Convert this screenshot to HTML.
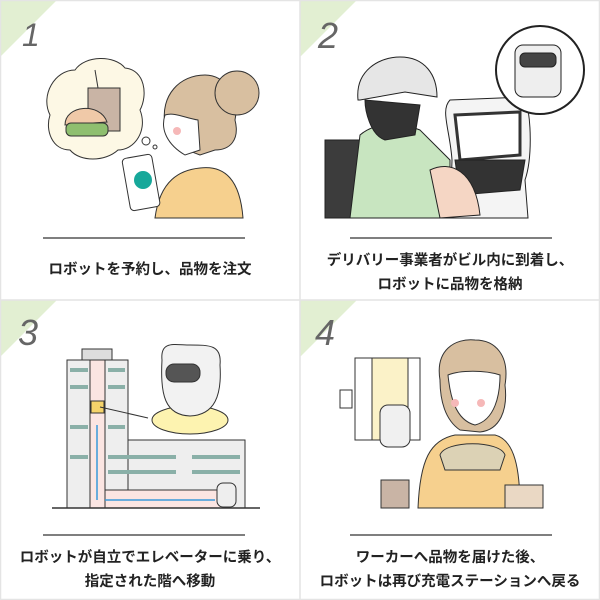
<!DOCTYPE html>
<html><head><meta charset="utf-8"><style>
html,body{margin:0;padding:0;background:#fff}
svg{display:block}
text{font-family:"Liberation Sans","Noto Sans CJK JP",sans-serif;font-size:14.5px;fill:#222;font-weight:700;text-anchor:middle}
.n{font-family:"Liberation Sans",sans-serif;font-size:36px;fill:#666;font-weight:400;text-anchor:start;font-style:italic}
</style></head><body>
<svg width="600" height="600" viewBox="0 0 600 600" xmlns="http://www.w3.org/2000/svg">
<rect width="600" height="600" fill="#fff"/>
<g fill="#e2efd2"><polygon points="0,0 57,0 0,57"/><polygon points="300,0 357,0 300,57"/><polygon points="0,300 57,300 0,357"/><polygon points="300,300 357,300 300,357"/></g>
<g stroke="#e4e4e4" stroke-width="1.5"><line x1="300" y1="0" x2="300" y2="600"/><line x1="0" y1="300" x2="600" y2="300"/><rect x="0.5" y="0.5" width="599" height="599" fill="none"/></g>
<text class="n" x="22" y="46" style="font-size:32px">1</text>
<text class="n" x="318" y="48">2</text>
<text class="n" x="18" y="345">3</text>
<text class="n" x="315" y="345">4</text>
<g stroke="#555" stroke-width="1.5"><line x1="43" y1="238" x2="245" y2="238"/><line x1="350" y1="238" x2="552" y2="238"/><line x1="43" y1="535" x2="245" y2="535"/><line x1="350" y1="535" x2="552" y2="535"/></g>
<text x="150" y="274">ロボットを予約し、品物を注文</text>
<text x="450" y="265">デリバリー事業者がビル内に到着し、</text>
<text x="450" y="289">ロボットに品物を格納</text>
<text x="150" y="562">ロボットが自立でエレベーターに乗り、</text>
<text x="150" y="586">指定された階へ移動</text>
<text x="450" y="562">ワーカーへ品物を届けた後、</text>
<text x="450" y="586">ロボットは再び充電ステーションへ戻る</text>
<!-- panel1 -->
<g stroke="#333" stroke-width="1">
<path d="M50,115 C40,95 55,70 75,70 C85,55 115,55 125,68 C145,70 148,95 140,110 C148,130 135,150 118,150 C105,162 80,162 70,150 C52,150 45,130 50,115Z" fill="#fdf8e5"/>
<circle cx="146" cy="141" r="4" fill="#fff"/><circle cx="155" cy="147" r="2" fill="#fff"/>
<rect x="88" y="88" width="32" height="43" fill="#c9b4a5"/><line x1="95" y1="70" x2="98" y2="88"/>
<path d="M65,125 C65,105 100,102 107,122Z" fill="#f0c9a8"/><rect x="66" y="123" width="42" height="13" rx="5" fill="#8fbf6f"/>
<path d="M155,218 C160,180 180,170 200,168 C225,165 240,180 243,218Z" fill="#f6d08e"/>
<path d="M165,125 C160,95 180,75 205,75 C225,75 240,95 235,120 C240,140 230,150 215,150 L200,155 C185,150 170,140 165,125Z" fill="#d8bfa0"/>
<circle cx="237" cy="93" r="22" fill="#d8bfa0"/>
<path d="M165,115 C160,130 168,145 185,155 L200,150 L198,120 C185,118 175,112 165,115Z" fill="#fff"/>
<rect x="126" y="156" width="30" height="53" rx="4" fill="#fff" transform="rotate(-10 141 182)"/>
<circle cx="143" cy="180" r="9" fill="#17a89a" stroke="none"/>
</g>
<circle cx="177" cy="131" r="4" fill="#f6b8b8"/>
<!-- panel2 -->
<g stroke="#222" stroke-width="1">
<rect x="325" y="140" width="70" height="78" fill="#3c3c3c"/>
<path d="M350,218 L360,135 C375,122 400,122 420,130 L450,160 L450,218Z" fill="#c8e5c0"/>
<path d="M365,100 C365,110 370,135 385,140 L415,135 L420,105Z" fill="#333"/>
<path d="M358,100 C355,70 380,57 400,57 C425,57 437,75 437,97 L405,92 L360,100Z" fill="#e6e6e6"/>
<path d="M450,218 L452,160 C450,130 440,110 450,100 L525,97 C532,120 532,160 525,180 L528,218Z" fill="#f4f4f4"/>
<path d="M455,115 L520,112 L520,155 L460,160Z" fill="#fff" stroke="#333" stroke-width="3"/>
<path d="M455,160 L525,160 L520,190 L460,195Z" fill="#333"/>
<path d="M430,170 C450,160 475,170 480,215 L440,218Z" fill="#f5d6c4"/>
<circle cx="540" cy="70" r="44" fill="#fff" stroke-width="2"/>
<rect x="515" y="45" width="46" height="52" rx="8" fill="#eee"/>
<rect x="520" y="53" width="36" height="14" rx="5" fill="#444"/>
</g>
<!-- panel3 -->
<g stroke="#333" stroke-width="1">
<rect x="82" y="349" width="30" height="12" fill="#ddd"/>
<rect x="67" y="360" width="61" height="148" fill="#eee"/>
<rect x="128" y="440" width="117" height="68" fill="#eee"/>
<rect x="90" y="360" width="15" height="148" fill="#fbe5e2"/>
<rect x="105" y="490" width="122" height="18" fill="#fbe5e2"/>
<rect x="91" y="401" width="13" height="12" fill="#f5d36a"/>
<line x1="100" y1="407" x2="148" y2="418"/>
<ellipse cx="190" cy="420" rx="38" ry="14" fill="#fdf3b0"/>
<path d="M162,360 C160,340 175,345 190,345 C210,345 222,345 220,365 C222,395 215,415 190,416 C165,415 160,395 162,360Z" fill="#f2f2f2"/>
<rect x="166" y="364" width="34" height="18" rx="8" fill="#555"/>
<line x1="52" y1="508" x2="260" y2="508" stroke-width="1.5"/>
<rect x="217" y="483" width="19" height="24" rx="6" fill="#eee"/>
</g>
<path d="M97,500 L97,425 M105,500 L215,500" stroke="#3a9ad9" stroke-width="1.5" fill="none"/>
<g fill="#8ab0a8"><rect x="70" y="368" width="18" height="4"/><rect x="108" y="368" width="17" height="4"/><rect x="70" y="385" width="18" height="4"/><rect x="108" y="385" width="17" height="4"/><rect x="70" y="425" width="18" height="4"/><rect x="108" y="425" width="17" height="4"/><rect x="70" y="455" width="18" height="4"/><rect x="108" y="455" width="68" height="4"/><rect x="192" y="455" width="48" height="4"/><rect x="108" y="470" width="68" height="4"/><rect x="192" y="470" width="48" height="4"/></g>
<!-- panel4 -->
<g stroke="#333" stroke-width="1">
<rect x="355" y="358" width="65" height="82" fill="#fff"/>
<rect x="372" y="358" width="36" height="82" fill="#fbf2c8"/>
<rect x="340" y="390" width="12" height="18" fill="#fff"/>
<rect x="380" y="405" width="30" height="42" rx="8" fill="#f0f0f0"/>
<path d="M418,508 C420,460 430,440 455,435 L495,435 C515,440 520,470 520,508Z" fill="#f6d08e"/>
<path d="M440,380 C435,350 455,338 475,340 C495,340 510,355 505,385 C508,410 500,430 480,432 L460,430 C445,420 440,400 440,380Z" fill="#d8bfa0"/>
<path d="M448,375 C450,395 455,420 475,425 C495,420 500,395 500,375 C485,370 460,370 448,375Z" fill="#fff"/>
<path d="M440,455 C445,440 500,440 505,455 L500,470 L445,470Z" fill="#dcd2b5"/>
<rect x="381" y="480" width="28" height="28" fill="#c9b4a5"/>
<rect x="505" y="485" width="38" height="23" fill="#ead8c4"/>
</g>
<circle cx="455" cy="403" r="4" fill="#f6b8b8"/><circle cx="481" cy="403" r="4" fill="#f6b8b8"/>
</svg>
</body></html>
